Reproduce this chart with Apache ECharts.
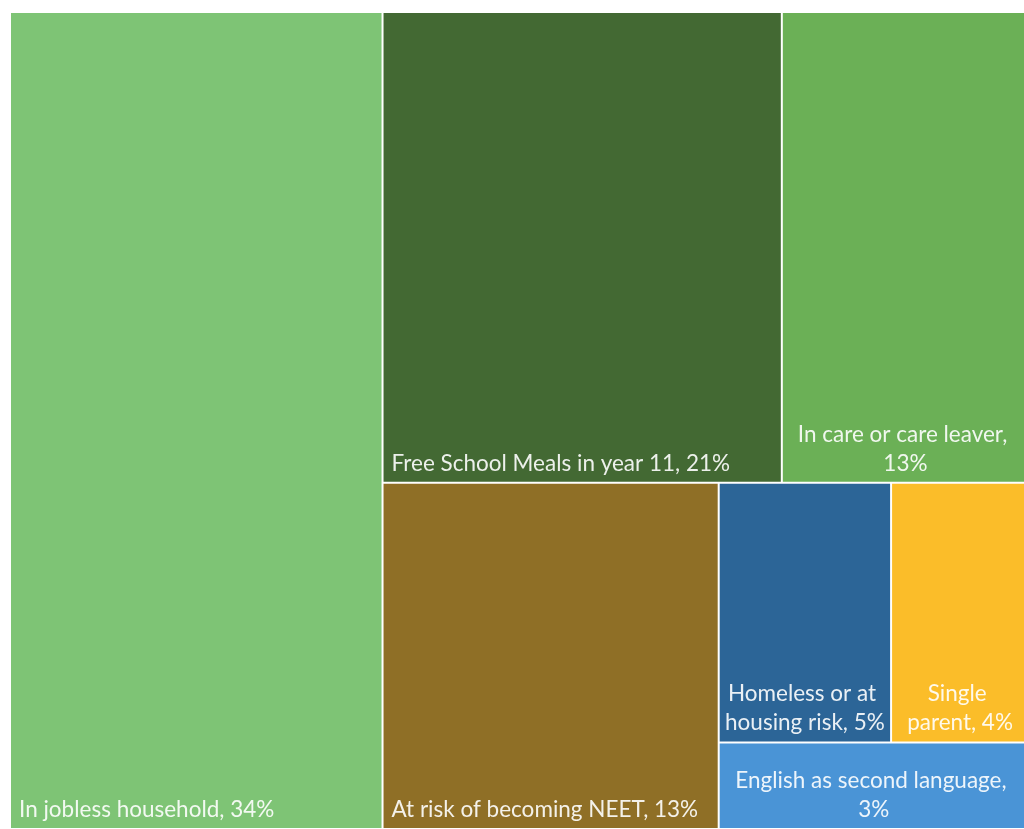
<!DOCTYPE html>
<html>
<head>
<meta charset="utf-8">
<script src="https://cdn.jsdelivr.net/npm/echarts@6/dist/echarts.min.js"></script>
<style>
  html, body { margin: 0; padding: 0; background: #ffffff; }
  #chart { width: 1024px; height: 829px; }
</style>
</head>
<body>
<div id="chart"></div>
<script>
// ---- data ----
const categories = [
  'In jobless household',
  'Free School Meals in year 11',
  'In care or care leaver',
  'At risk of becoming NEET',
  'Homeless or at housing risk',
  'Single parent',
  'English as second language'
];
const shares = [34, 21, 13, 13, 5, 4, 3];

// ---- styling ----
const palette = ['#7ec475', '#436933', '#6bb056', '#8f6f26', '#2c6597', '#fbbd29', '#4a94d6'];
// labels that wrap onto two lines are centred like the reference
const centredLabels = new Set([
  'In care or care leaver',
  'Homeless or at housing risk',
  'Single parent',
  'English as second language'
]);

const data = categories.map((name, i) => {
  const item = { name: name, value: shares[i], itemStyle: { color: palette[i] } };
  if (centredLabels.has(name)) item.label = { position: 'insideBottom' };
  return item;
});

const chart = echarts.init(document.getElementById('chart'), null, { renderer: 'canvas' });
chart.setOption({
  animation: false,
  backgroundColor: '#ffffff',
  series: [{
    type: 'treemap',
    left: 11, top: 13, width: 1017, height: 815,
    roam: false,
    nodeClick: false,
    breadcrumb: { show: false },
    sort: false,
    squareRatio: 0.937,
    visibleMin: 0,
    itemStyle: { gapWidth: 2, borderWidth: 0, borderColor: '#ffffff' },
    levels: [{ itemStyle: { gapWidth: 2, borderWidth: 0, borderColor: '#ffffff' } }],
    emphasis: { disabled: true },
    label: {
      show: true,
      position: 'insideBottomLeft',
      distance: 4,
      padding: [0, 4, 0, 4],
      fontFamily: 'Lato',
      fontSize: 22.5,
      lineHeight: 29,
      color: 'rgba(255,255,255,0.9)',
      overflow: 'break',
      formatter: p => p.name + ', ' + p.value + '%'
    },
    data: data
  }]
});
</script>
</body>
</html>
